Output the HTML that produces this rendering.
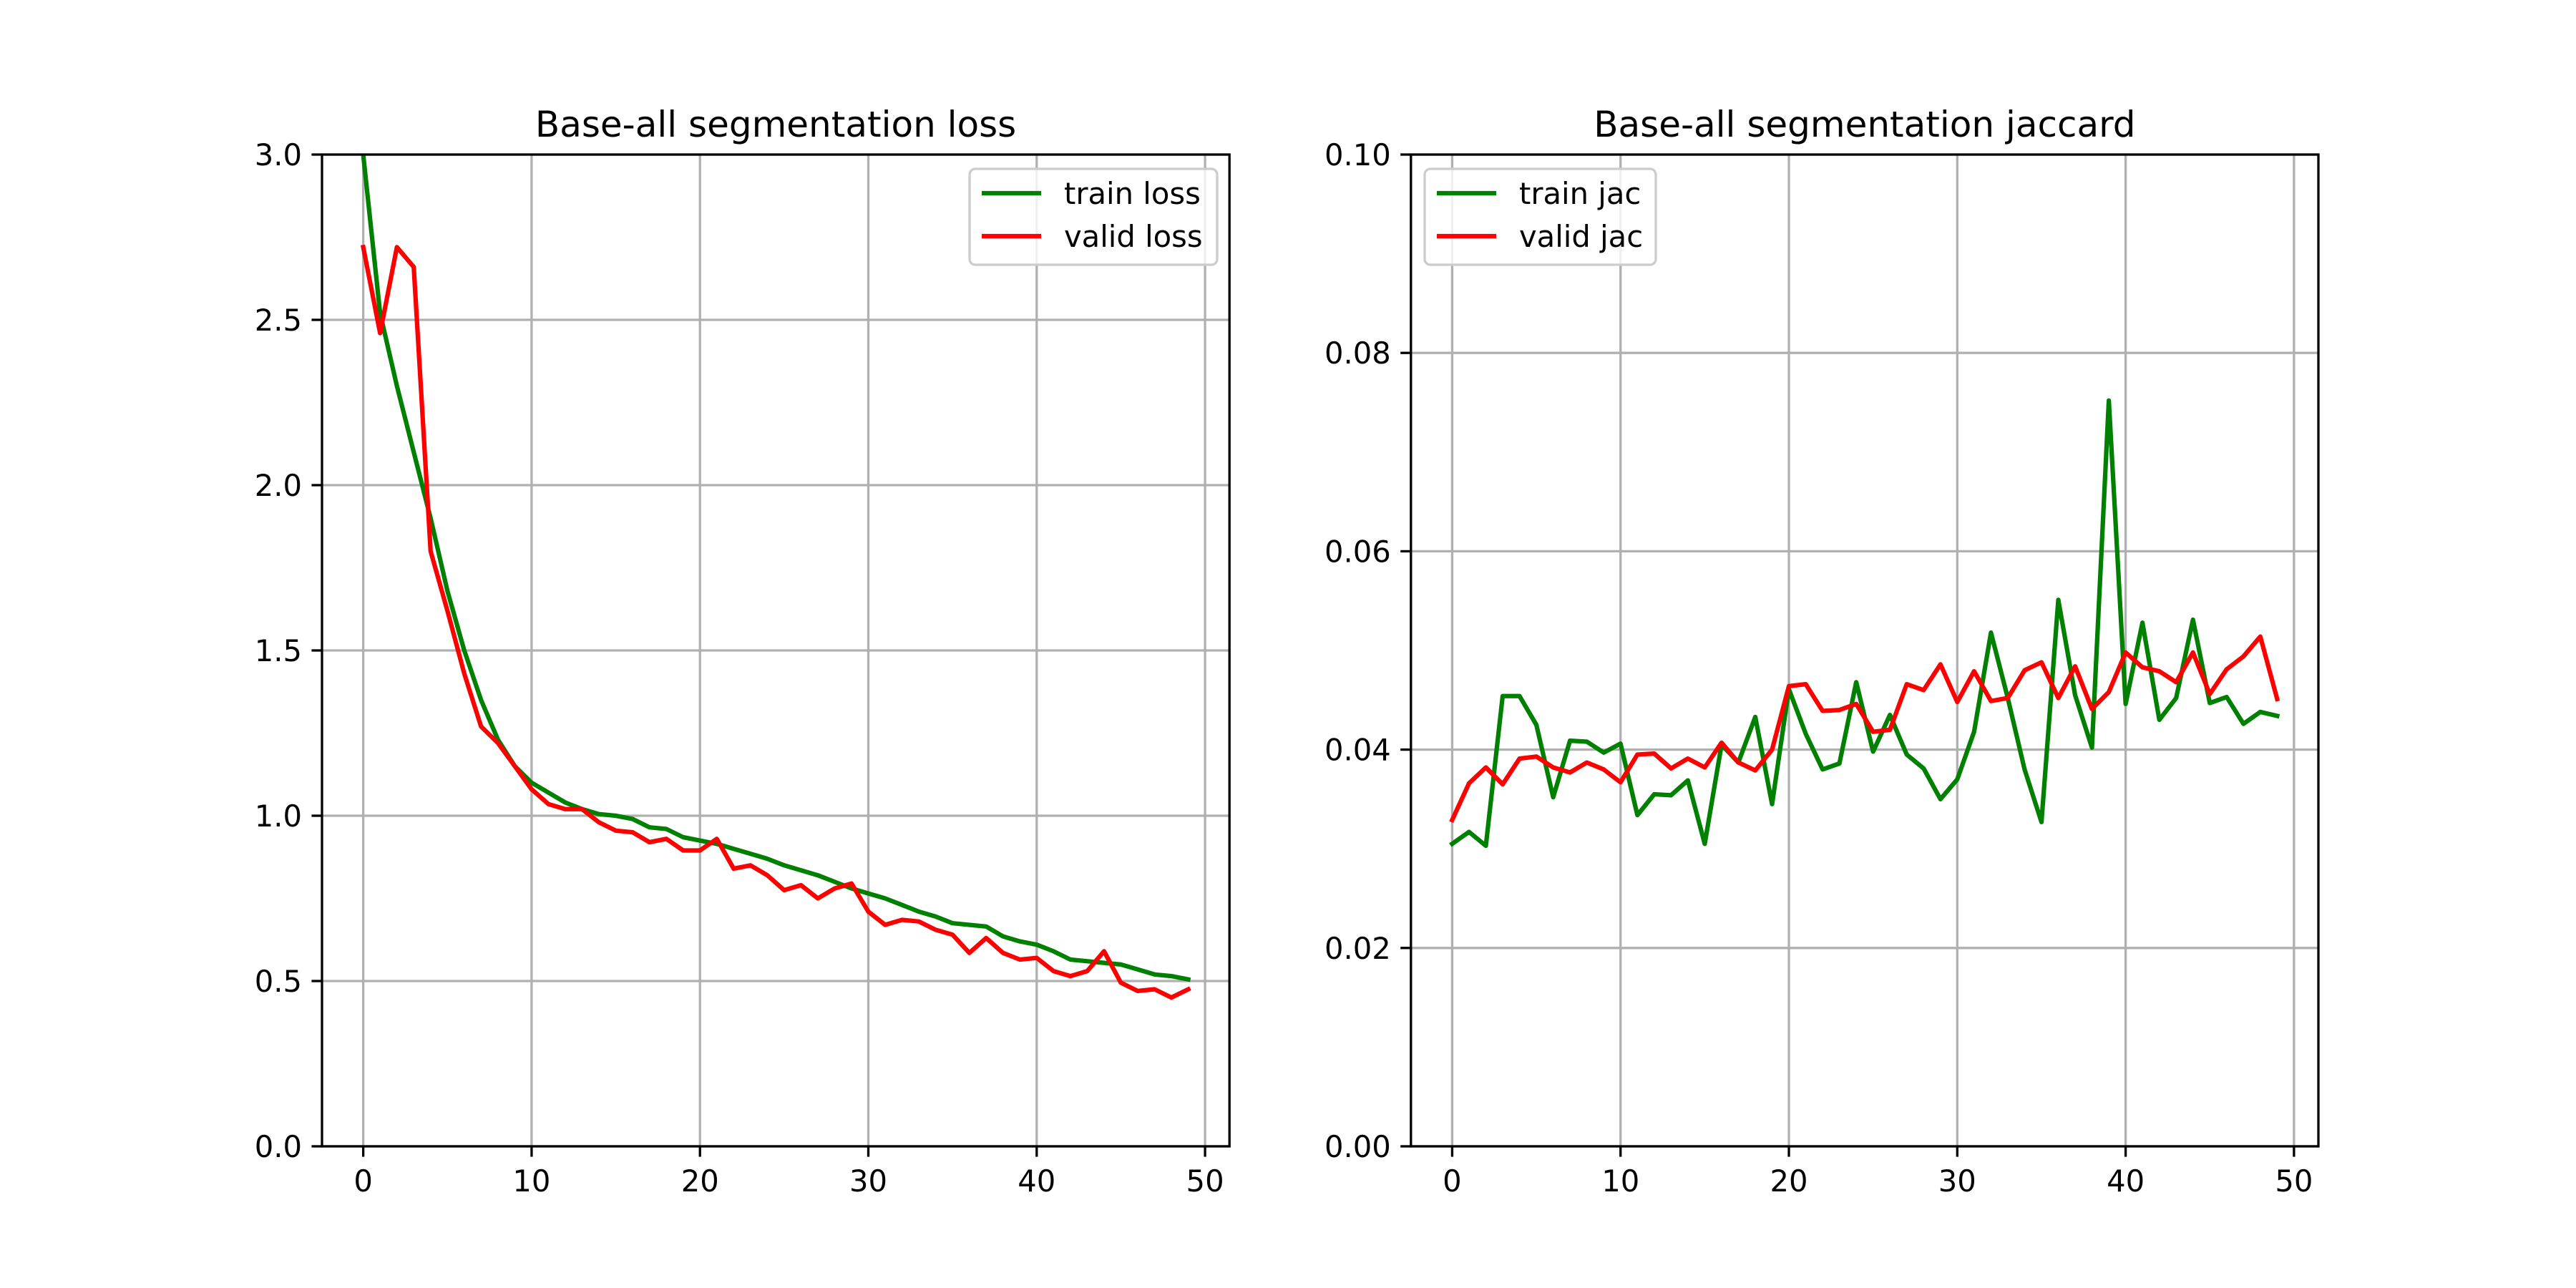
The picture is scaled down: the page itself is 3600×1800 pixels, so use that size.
<!DOCTYPE html>
<html><head><meta charset="utf-8"><style>
html,body{margin:0;padding:0;background:#fff;}
svg{display:block;font-family:"DejaVu Sans","Liberation Sans",sans-serif;}
</style></head><body>
<svg id="fig" width="3600" height="1800" viewBox="0 0 3600 1800" xmlns="http://www.w3.org/2000/svg">
<rect width="3600" height="1800" fill="#fff"/>
</svg>
<script>
const epochs = Array.from({length:50},(_,i)=>i);
const trainLoss = [3.0,2.52,2.3,2.1,1.9,1.68,1.5,1.35,1.23,1.15,1.1,1.07,1.04,1.02,1.005,1.0,0.99,0.965,0.96,0.935,0.925,0.915,0.9,0.885,0.87,0.85,0.835,0.82,0.8,0.78,0.765,0.75,0.73,0.71,0.695,0.675,0.67,0.665,0.635,0.62,0.61,0.59,0.565,0.56,0.555,0.55,0.535,0.52,0.515,0.505];
const validLoss = [2.72,2.46,2.72,2.66,1.8,1.62,1.43,1.27,1.22,1.15,1.08,1.035,1.02,1.02,0.98,0.955,0.95,0.92,0.93,0.895,0.895,0.93,0.84,0.85,0.82,0.775,0.79,0.75,0.78,0.795,0.71,0.67,0.685,0.68,0.655,0.64,0.585,0.63,0.585,0.565,0.57,0.53,0.515,0.53,0.59,0.495,0.47,0.475,0.45,0.475];
const trainJac = [0.0305,0.0317,0.0303,0.0454,0.0454,0.0425,0.0352,0.0409,0.0408,0.0397,0.0406,0.0334,0.0355,0.0354,0.0369,0.0305,0.0405,0.0387,0.0433,0.0345,0.0461,0.0416,0.0380,0.0386,0.0468,0.0398,0.0435,0.0395,0.0381,0.0350,0.0370,0.0418,0.0518,0.0452,0.0380,0.0327,0.0551,0.0455,0.0402,0.0752,0.0446,0.0528,0.0430,0.0452,0.0531,0.0447,0.0453,0.0426,0.0438,0.0434];
const validJac = [0.0329,0.0366,0.0382,0.0365,0.0391,0.0393,0.0382,0.0377,0.0387,0.0380,0.0367,0.0395,0.0396,0.0381,0.0391,0.0382,0.0407,0.0387,0.0379,0.0400,0.0464,0.0466,0.0439,0.0440,0.0446,0.0418,0.0420,0.0466,0.0460,0.0486,0.0448,0.0479,0.0449,0.0452,0.0480,0.0488,0.0452,0.0484,0.0441,0.0458,0.0498,0.0483,0.0479,0.0468,0.0498,0.0456,0.0481,0.0494,0.0514,0.0451];
const xTicks = [0,10,20,30,40,50];
const lossTicks = [0,0.5,1.0,1.5,2.0,2.5,3.0];
const lossTickLabels = ["0.0","0.5","1.0","1.5","2.0","2.5","3.0"];
const jacTicks = [0,0.02,0.04,0.06,0.08,0.1];
const jacTickLabels = ["0.00","0.02","0.04","0.06","0.08","0.10"];

const NS="http://www.w3.org/2000/svg";
const svg=document.getElementById('fig');
function mk(tag,attrs,parent){const e=document.createElementNS(NS,tag);for(const k in attrs)e.setAttribute(k,attrs[k]);(parent||svg).appendChild(e);return e;}

function panel(cfg){
  const L=cfg.left,R=cfg.left+1268.2,T=216,B=1602;
  const xmin=-2.45,xmax=51.45;
  const sx=v=>L+(v-xmin)/(xmax-xmin)*(R-L);
  const sy=v=>B-(v-cfg.ymin)/(cfg.ymax-cfg.ymin)*(B-T);
  const g=mk('g',{});
  
  
  // grid
  xTicks.forEach(t=>{const l=mk('line',{x1:sx(t),x2:sx(t),y1:T,y2:B,stroke:'#b0b0b0','stroke-width':3.3},g);
    });
  cfg.yTicks.forEach(t=>{const l=mk('line',{x1:L,x2:R,y1:sy(t),y2:sy(t),stroke:'#b0b0b0','stroke-width':3.3},g);
    });
  // series
  const clipId=cfg.name+'-clip';
  const cp=mk('clipPath',{id:clipId},g);mk('rect',{x:L,y:T,width:R-L,height:B-T},cp);
  cfg.series.forEach(s=>{
    const d=s.values.map((v,i)=>(i?'L':'M')+sx(epochs[i]).toFixed(1)+','+sy(v).toFixed(1)).join('');
    const p=mk('path',{d:d,fill:'none',stroke:s.color,'stroke-width':6.25,'stroke-linejoin':'round','stroke-linecap':'square','clip-path':'url(#'+clipId+')'},g);
    
    
  });
  // spines
  const sp=mk('rect',{x:L,y:T,width:R-L,height:B-T,fill:'none',stroke:'#000','stroke-width':3.3},g);
  
  // x ticks
  xTicks.forEach(t=>{
    mk('line',{x1:sx(t),x2:sx(t),y1:B,y2:B+14.6,stroke:'#000','stroke-width':3.3},g);
    const tx=mk('text',{x:sx(t),y:B+63,'font-size':41.7,'text-anchor':'middle',fill:'#000'},g);
    tx.textContent=t;
  });
  cfg.yTicks.forEach((t,i)=>{
    mk('line',{x1:L-14.6,x2:L,y1:sy(t),y2:sy(t),stroke:'#000','stroke-width':3.3},g);
    const tx=mk('text',{x:L-28,y:sy(t)+15,'font-size':41.7,'text-anchor':'end',fill:'#000'},g);
    tx.textContent=cfg.yLabels[i];
  });
  const ti=mk('text',{x:(L+R)/2,y:191,'font-size':50,'text-anchor':'middle',fill:'#000'},g);
  ti.textContent=cfg.title;
  // legend
  const lx=cfg.legendX,ly=236,lw=cfg.legendW,lh=134;
  const lg=mk('g',{},g);
  mk('rect',{x:lx,y:ly,width:lw,height:lh,rx:8,fill:'#fff','fill-opacity':0.8,stroke:'#cccccc','stroke-width':3.3},lg);
  cfg.series.forEach((s,i)=>{
    const yy=ly+34+i*60;
    mk('line',{x1:lx+17,x2:lx+100,y1:yy,y2:yy,stroke:s.color,'stroke-width':6.25},lg);
    const t=mk('text',{x:lx+132,y:yy+15,'font-size':41.7,fill:'#000'},lg);
    t.textContent=s.label;
  });
}
panel({name:'loss-chart',left:450,ymin:0,ymax:3,yTicks:lossTicks,yLabels:lossTickLabels,title:'Base-all segmentation loss',
  legendX:1355,legendW:346,series:[{id:'train-loss',label:'train loss',color:'#008000',values:trainLoss},{id:'valid-loss',label:'valid loss',color:'#ff0000',values:validLoss}]});
panel({name:'jaccard-chart',left:1971.8,ymin:0,ymax:0.1,yTicks:jacTicks,yLabels:jacTickLabels,title:'Base-all segmentation jaccard',
  legendX:1991,legendW:323,series:[{id:'train-jac',label:'train jac',color:'#008000',values:trainJac},{id:'valid-jac',label:'valid jac',color:'#ff0000',values:validJac}]});
</script>
</body></html>
